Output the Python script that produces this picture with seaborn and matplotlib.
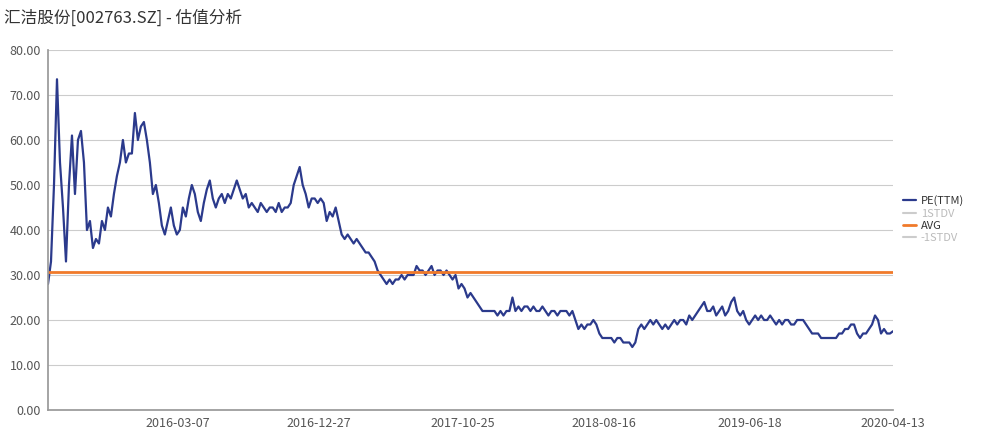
import matplotlib
matplotlib.use("Agg")
import matplotlib.pyplot as plt
import seaborn as sns
import pandas as pd
import numpy as np

title = "汇洁股份[002763.SZ] - 估值分析"
start_date = "2015-06-09"
end_date = "2020-04-13"
tick_labels = ["2016-03-07", "2016-12-27", "2017-10-25", "2018-08-16", "2019-06-18", "2020-04-13"]
avg_value = 30.7
pe_values = [28, 33, 50, 73.5, 55, 45, 33, 50, 61, 48, 60, 62, 55, 40, 42, 36, 38, 37, 42, 40,
    45, 43, 48, 52, 55, 60, 55, 57, 57, 66, 60, 63, 64, 60, 55, 48, 50, 46, 41, 39,
    42, 45, 41, 39, 40, 45, 43, 47, 50, 48, 44, 42, 46, 49, 51, 47, 45, 47, 48, 46,
    48, 47, 49, 51, 49, 47, 48, 45, 46, 45, 44, 46, 45, 44, 45, 45, 44, 46, 44, 45,
    45, 46, 50, 52, 54, 50, 48, 45, 47, 47, 46, 47, 46, 42, 44, 43, 45, 42, 39, 38,
    39, 38, 37, 38, 37, 36, 35, 35, 34, 33, 31, 30, 29, 28, 29, 28, 29, 29, 30, 29,
    30, 30, 30, 32, 31, 31, 30, 31, 32, 30, 31, 31, 30, 31, 30, 29, 30, 27, 28, 27,
    25, 26, 25, 24, 23, 22, 22, 22, 22, 22, 21, 22, 21, 22, 22, 25, 22, 23, 22, 23,
    23, 22, 23, 22, 22, 23, 22, 21, 22, 22, 21, 22, 22, 22, 21, 22, 20, 18, 19, 18,
    19, 19, 20, 19, 17, 16, 16, 16, 16, 15, 16, 16, 15, 15, 15, 14, 15, 18, 19, 18,
    19, 20, 19, 20, 19, 18, 19, 18, 19, 20, 19, 20, 20, 19, 21, 20, 21, 22, 23, 24,
    22, 22, 23, 21, 22, 23, 21, 22, 24, 25, 22, 21, 22, 20, 19, 20, 21, 20, 21, 20,
    20, 21, 20, 19, 20, 19, 20, 20, 19, 19, 20, 20, 20, 19, 18, 17, 17, 17, 16, 16,
    16, 16, 16, 16, 17, 17, 18, 18, 19, 19, 17, 16, 17, 17, 18, 19, 21, 20, 17, 18,
    17, 17, 17.5]

dates = pd.date_range(start_date, end_date, periods=len(pe_values))
df = pd.DataFrame({"date": dates, "pe": pe_values})

sns.set_theme(style="white")
plt.rcParams['font.family'] = ['Noto Sans CJK SC', 'DejaVu Sans']

fig = plt.figure(figsize=(9.89, 4.44), dpi=100)
ax = fig.add_axes([48/989, 1-410/444, 845/989, 360/444])
sns.lineplot(data=df, x="date", y="pe", ax=ax, color="#2b3a8c", linewidth=1.6, label="PE(TTM)")
ax.plot([], [], color="#cccccc", label="1STDV")
ax.axhline(avg_value, color="#f07a2a", linewidth=2, label="AVG")
ax.plot([], [], color="#cccccc", label="-1STDV")

ax.set_ylim(0, 80)
ax.set_yticks(np.arange(0, 81, 10))
ax.set_yticklabels([f"{v:.2f}" for v in np.arange(0, 81, 10)], fontsize=9, color="#555555")
ax.set_xlim(dates[0], dates[-1])
ax.set_xticks(pd.to_datetime(tick_labels))
ax.set_xticklabels(tick_labels, fontsize=9, color="#555555")
ax.grid(axis="y", color="#cccccc", linewidth=0.8)
ax.set_xlabel(""); ax.set_ylabel("")
for s in ["top", "right"]:
    ax.spines[s].set_visible(False)
for s in ["left", "bottom"]:
    ax.spines[s].set_color("#999999")
ax.tick_params(axis="both", length=3, color="#999999", pad=2)

leg = ax.legend(loc="center left", bbox_to_anchor=(1.0, 0.53), frameon=False, fontsize=8,
                handlelength=1.2, handletextpad=0.4, labelspacing=0.2, borderaxespad=0.5)
for t, c in zip(leg.get_texts(), ["#333333", "#bbbbbb", "#333333", "#bbbbbb"]):
    t.set_color(c)

fig.text(4/989, 1-18/444, title, fontsize=12, va="center", ha="left", color="#333333")
fig.savefig("out.png", dpi=100)
